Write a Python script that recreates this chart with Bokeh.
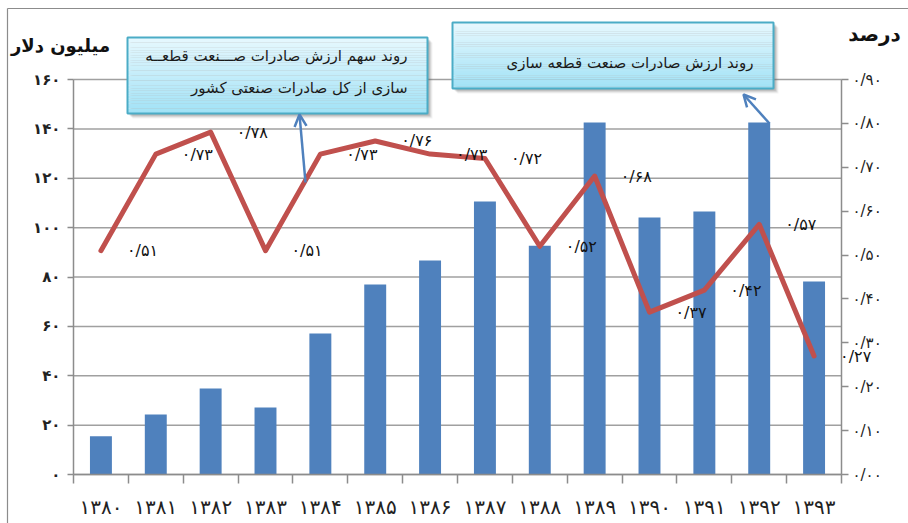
from bokeh.plotting import figure
from bokeh.models import (Range1d, LinearAxis, FixedTicker, LabelSet, ColumnDataSource,
                          Label, Arrow, OpenHead)
from bokeh.core.properties import value
from bokeh.embed import file_html
from bokeh.resources import INLINE

# ---------------- data ----------------
years = ["۱۳۸۰", "۱۳۸۱", "۱۳۸۲", "۱۳۸۳", "۱۳۸۴", "۱۳۸۵", "۱۳۸۶",
         "۱۳۸۷", "۱۳۸۸", "۱۳۸۹", "۱۳۹۰", "۱۳۹۱", "۱۳۹۲", "۱۳۹۳"]
export_value = [15.5, 24.3, 34.8, 27.1, 57.1, 77.0, 86.7,
                110.6, 92.7, 142.6, 104.1, 106.5, 142.6, 78.2]
share = [0.51, 0.73, 0.78, 0.51, 0.73, 0.76, 0.73,
         0.72, 0.52, 0.68, 0.37, 0.42, 0.57, 0.27]
share_labels = ["۰/۵۱", "۰/۷۳", "۰/۷۸", "۰/۵۱", "۰/۷۳", "۰/۷۶", "۰/۷۳",
                "۰/۷۲", "۰/۵۲", "۰/۶۸", "۰/۳۷", "۰/۴۲", "۰/۵۷", "۰/۲۷"]
left_ticks = [0, 20, 40, 60, 80, 100, 120, 140, 160]
left_tick_labels = ["۰", "۲۰", "۴۰", "۶۰", "۸۰", "۱۰۰", "۱۲۰", "۱۴۰", "۱۶۰"]
right_ticks = [0.0, 0.1, 0.2, 0.3, 0.4, 0.5, 0.6, 0.7, 0.8, 0.9]
right_tick_labels = ["۰/۰۰", "۰/۱۰", "۰/۲۰", "۰/۳۰", "۰/۴۰",
                     "۰/۵۰", "۰/۶۰", "۰/۷۰", "۰/۸۰", "۰/۹۰"]
left_title = "میلیون دلار"
right_title = "درصد"
note_value = "روند ارزش صادرات صنعت قطعه سازی"
note_share_1 = "روند سهم ارزش صادرات صـــنعت قطعــه"
note_share_2 = "سازی از کل صادرات صنعتی کشور"

# ---------------- layout ----------------
FONT = "DejaVu Sans"
BAR = "#4F81BD"
LINE = "#C0504D"
AXIS = "#8c8c8c"
GRID = "#a0a0a0"
W, H = 908, 523

n = len(years)
idx = list(range(n))
LMAX, RMAX = 160, 0.9
# page pixel geometry of the value area
FX0, FX1, FY0, FY_MAX = 73, 841, 474, 79


def dx(px):
    return (px - FX0) / ((FX1 - FX0) / n) - 0.5


def dy(py):
    return (FY0 - py) * LMAX / (FY0 - FY_MAX)


p = figure(width=W, height=H, x_range=Range1d(dx(0), dx(W)), y_range=Range1d(dy(H), dy(0)),
           output_backend="svg", toolbar_location=None,
           min_border_left=0, min_border_right=0, min_border_top=0, min_border_bottom=0)
p.outline_line_color = None
p.background_fill_color = "white"
p.border_fill_color = "white"
p.extra_y_ranges = {"pct": Range1d(dy(H) * RMAX / LMAX, dy(0) * RMAX / LMAX)}
p.xgrid.visible = False
p.ygrid.visible = False

# outer chart border (top and left visible)
p.segment(x0=[dx(7), dx(7)], y0=[dy(8), dy(8)], x1=[dx(W + 5), dx(7)], y1=[dy(8), dy(H + 5)],
          line_color=AXIS, line_width=1.2)

# horizontal gridlines across the value area
p.segment(x0=[-0.5] * len(left_ticks), x1=[n - 0.5] * len(left_ticks),
          y0=left_ticks, y1=left_ticks, line_color=GRID, line_width=1.5)

# left axis
ya = p.yaxis[0]
ya.fixed_location = -0.5
ya.ticker = FixedTicker(ticks=left_ticks)
ya.major_label_overrides = {t: l for t, l in zip(left_ticks, left_tick_labels)}
ya.bounds = (0, LMAX)
ya.axis_line_color = AXIS
ya.axis_line_width = 1.5
ya.major_tick_line_color = AXIS
ya.major_tick_line_width = 1.5
ya.major_tick_out = 6
ya.major_tick_in = 0
ya.minor_tick_line_color = None
ya.major_label_standoff = 7
ya.major_label_text_font = FONT
ya.major_label_text_font_size = "15px"
ya.major_label_text_font_style = "bold"
ya.major_label_text_color = "#222222"

# right axis
ra = LinearAxis(y_range_name="pct", ticker=FixedTicker(ticks=right_ticks),
                fixed_location=n - 0.5)
ra.major_label_overrides = {t: l for t, l in zip(right_ticks, right_tick_labels)}
ra.bounds = (0, RMAX)
ra.axis_line_color = AXIS
ra.axis_line_width = 1.5
ra.major_tick_line_color = AXIS
ra.major_tick_line_width = 1.5
ra.major_tick_out = 7
ra.major_tick_in = 0
ra.minor_tick_line_color = None
ra.major_label_standoff = 4
ra.major_label_text_font = FONT
ra.major_label_text_font_size = "15px"
ra.major_label_text_color = "#222222"
p.add_layout(ra, "right")

# bottom axis
xa = p.xaxis[0]
xa.fixed_location = 0
xa.ticker = FixedTicker(ticks=idx, minor_ticks=[i - 0.5 for i in range(n + 1)])
xa.major_label_overrides = {i: y for i, y in zip(idx, years)}
xa.bounds = (-0.5, n - 0.5)
xa.axis_line_color = AXIS
xa.axis_line_width = 1.5
xa.major_tick_line_color = None
xa.major_tick_out = 0
xa.major_tick_in = 0
xa.minor_tick_line_color = AXIS
xa.minor_tick_line_width = 1.5
xa.minor_tick_out = 9
xa.minor_tick_in = 0
xa.major_label_standoff = 11
xa.major_label_text_font = FONT
xa.major_label_text_font_size = "20px"
xa.major_label_text_color = "#222222"

# bars and line
p.vbar(x=idx, top=export_value, width=0.4, fill_color=BAR, line_color=None)
p.line(x=idx, y=share, y_range_name="pct", line_color=LINE, line_width=5,
       line_join="round", line_cap="round")

src = ColumnDataSource(dict(x=idx, y=share, t=share_labels))
p.add_layout(LabelSet(x="x", y="y", text="t", source=src, y_range_name="pct",
                      x_offset=26, text_align="left", text_baseline="middle",
                      text_font=value(FONT), text_font_size="16px", text_color="#111111"))


# callout boxes
def callout(x0, y0, x1, y1):
    for off, a in [(5, 0.08), (4, 0.12), (3, 0.16), (2, 0.2)]:
        p.quad(left=[dx(x0 + off)], right=[dx(x1 + off)], top=[dy(y0 + off)],
               bottom=[dy(y1 + off)], fill_color="#606060", fill_alpha=a, line_color=None)
    N = 30
    c0 = (0xe6, 0xf8, 0xfe)
    c1 = (0xa2, 0xe2, 0xf6)
    tops, bots, cols = [], [], []
    for k in range(N):
        f = k / (N - 1)
        c = tuple(int(round(c0[j] + (c1[j] - c0[j]) * f)) for j in range(3))
        cols.append("#%02x%02x%02x" % c)
        tops.append(dy(y0 + (y1 - y0) * k / N))
        bots.append(dy(y0 + (y1 - y0) * (k + 1) / N))
    p.quad(left=[dx(x0)] * N, right=[dx(x1)] * N, top=tops, bottom=bots,
           fill_color=cols, line_color=None)
    p.quad(left=[dx(x0)], right=[dx(x1)], top=[dy(y0)], bottom=[dy(y1)],
           fill_color=None, line_color="#4bacc6", line_width=2)


callout(127, 37, 427, 113)
callout(452, 22, 773, 88)

p.text(x=[dx(407), dx(407)], y=[dy(55), dy(87)], text=[note_share_1, note_share_2],
       text_align="right", text_baseline="middle", text_font=value(FONT),
       text_font_size="15px", text_color="#1a1a1a")
p.text(x=[dx(753)], y=[dy(62)], text=[note_value],
       text_align="right", text_baseline="middle", text_font=value(FONT),
       text_font_size="15px", text_color="#1a1a1a")

for xs, ys, xe, ye in [(305, 182, 299, 114), (769, 123, 743, 94)]:
    p.add_layout(Arrow(end=OpenHead(size=12, line_color=BAR, line_width=2.5),
                       x_start=dx(xs), y_start=dy(ys), x_end=dx(xe), y_end=dy(ye),
                       line_color=BAR, line_width=2.5))

# axis titles
p.add_layout(Label(x=dx(60), y=dy(45), text=left_title, text_align="center",
                   text_baseline="middle", text_font=FONT, text_font_size="18px",
                   text_font_style="bold", text_color="#111111"))
p.add_layout(Label(x=dx(874), y=dy(33), text=right_title, text_align="center",
                   text_baseline="middle", text_font=FONT, text_font_size="20px",
                   text_font_style="bold", text_color="#111111"))

open("out.html", "w").write(file_html(p, INLINE))
